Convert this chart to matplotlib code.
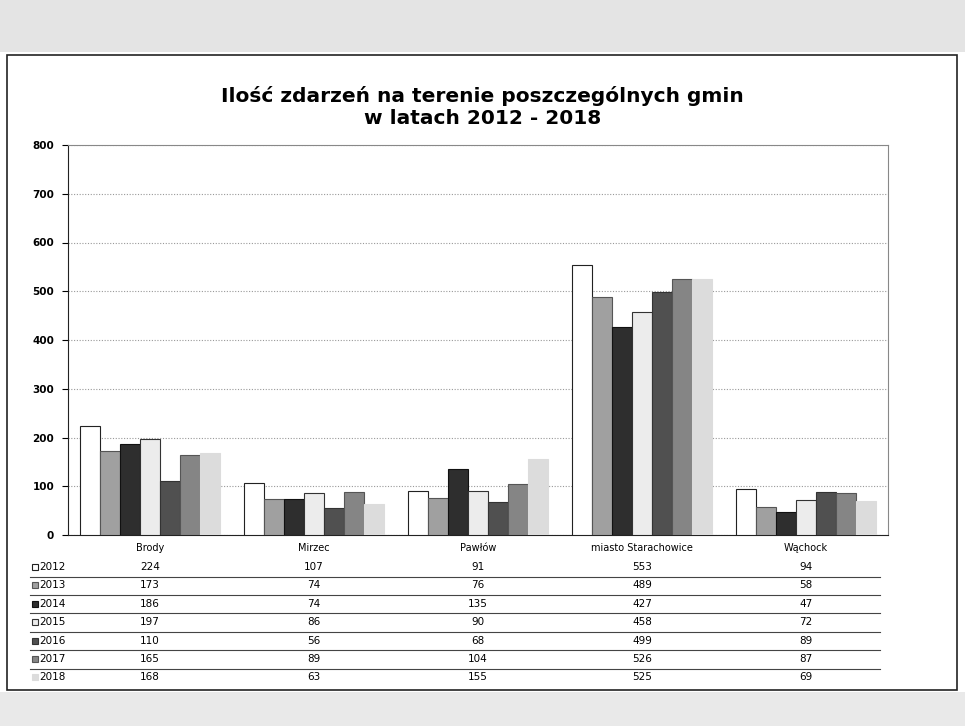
import matplotlib.pyplot as plt
import matplotlib.transforms as mtransforms
from matplotlib.patches import Rectangle
import numpy as np

gminy = ["Brody", "Mirzec", "Pawłów", "miasto Starachowice", "Wąchock"]
lata = ["2012", "2013", "2014", "2015", "2016", "2017", "2018"]
v2012 = [224, 107, 91, 553, 94]
v2013 = [173, 74, 76, 489, 58]
v2014 = [186, 74, 135, 427, 47]
v2015 = [197, 86, 90, 458, 72]
v2016 = [110, 56, 68, 499, 89]
v2017 = [165, 89, 104, 526, 87]
v2018 = [168, 63, 155, 525, 69]
serie = [v2012, v2013, v2014, v2015, v2016, v2017, v2018]

kolory = ["#ffffff", "#a0a0a0", "#2e2e2e", "#ececec", "#505050", "#858585", "#dcdcdc"]
krawedzie = ["#222222", "#555555", "#111111", "#333333", "#333333", "#555555", "#dcdcdc"]

W, H = 965, 726
fig = plt.figure(figsize=(W / 100, H / 100), dpi=100)
fig.patch.set_facecolor("white")

def fy(p):
    return 1 - p / H

def fx(p):
    return p / W

# scan background / frame
fig.patches.append(Rectangle((0, fy(52)), 1, 52 / H, transform=fig.transFigure,
                             facecolor="#e4e4e4", edgecolor="none", zorder=-3))
fig.patches.append(Rectangle((0, 0), 1, fy(692), transform=fig.transFigure,
                             facecolor="#e9e9e9", edgecolor="none", zorder=-3))
fig.patches.append(Rectangle((fx(7), fy(690)), fx(950), (690 - 55) / H,
                             transform=fig.transFigure, facecolor="white",
                             edgecolor="#222222", linewidth=1.2, zorder=-2))

ax = fig.add_axes([fx(68), fy(535), fx(888 - 68), (535 - 145) / H], zorder=1)
ax.patch.set_alpha(0)

x = np.arange(len(gminy))
bw = 0.122
for i, (vals, c, ec) in enumerate(zip(serie, kolory, krawedzie)):
    ax.bar(x + (i - 3) * bw, vals, bw, color=c, edgecolor=ec, linewidth=0.8, zorder=3)

ax.set_xlim(-0.5, len(gminy) - 0.5)
ax.set_ylim(0, 800)
ax.set_yticks(range(0, 801, 100))
ax.set_yticklabels([str(v) for v in range(0, 801, 100)], fontsize=7.5, fontweight="bold")
ax.set_xticks([])
ax.grid(axis="y", linestyle=(0, (1, 1.5)), color="#999999", linewidth=0.8, zorder=0)
for s in ["top", "right"]:
    ax.spines[s].set_color("#888888")
    ax.spines[s].set_linewidth(0.8)
ax.spines["left"].set_color("#222222")
ax.spines["bottom"].set_color("#222222")
ax.tick_params(axis="y", length=4, width=0.8, pad=6)

fig.text(0.5, fy(107), "Ilość zdarzeń na terenie poszczególnych gmin\nw latach 2012 - 2018",
         ha="center", va="center", fontsize=14.5, fontweight="bold", linespacing=1.2)

# data table below the axes
tr = mtransforms.blended_transform_factory(ax.transData, fig.transFigure)
for j, g in enumerate(gminy):
    fig.text(x[j], fy(548), g, transform=tr, ha="center", va="center", fontsize=7)

row0 = 567
dy = 18.4
for i, rok in enumerate(lata):
    yp = row0 + i * dy
    fig.patches.append(Rectangle((fx(32), fy(yp + 3)), fx(6), 6 / H, transform=fig.transFigure,
                                 facecolor=kolory[i], edgecolor=krawedzie[i], linewidth=0.8))
    fig.text(fx(39), fy(yp), rok, ha="left", va="center", fontsize=7.5)
    for j in range(len(gminy)):
        fig.text(x[j], fy(yp), str(serie[i][j]), transform=tr, ha="center", va="center", fontsize=7.5)
    if i < len(lata) - 1:
        fig.add_artist(plt.Line2D([fx(30), fx(880)], [fy(yp + 9.5), fy(yp + 9.5)],
                                  transform=fig.transFigure, color="#444444", linewidth=0.8))

fig.savefig("out.png", dpi=100)
